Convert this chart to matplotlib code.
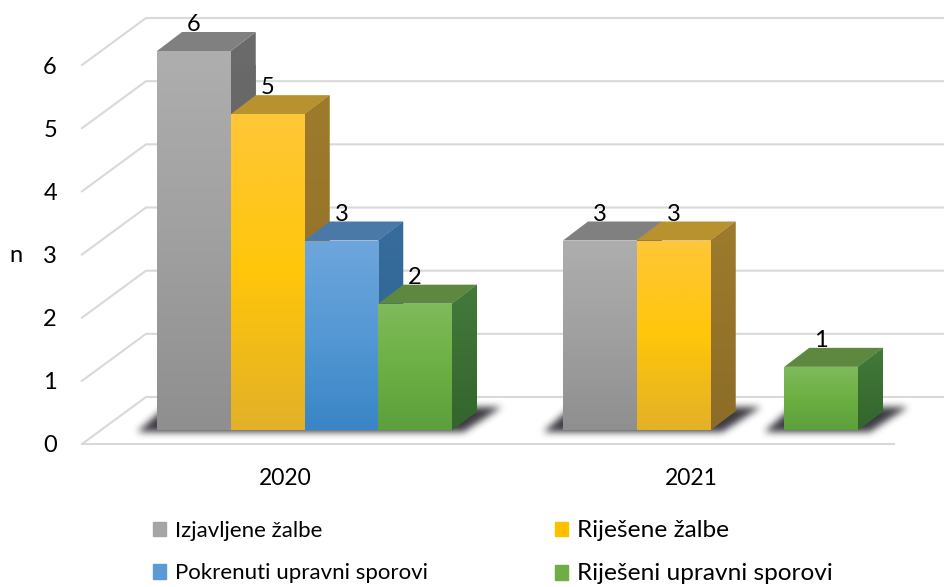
import numpy as np
import matplotlib.pyplot as plt
from matplotlib.patches import Polygon, Patch
from matplotlib.path import Path
from matplotlib.colors import LinearSegmentedColormap

years = ['2020', '2021']
series_names = ['Izjavljene žalbe', 'Riješene žalbe', 'Pokrenuti upravni sporovi', 'Riješeni upravni sporovi']
izjavljene = [6, 3]
rijesene = [5, 3]
pokrenuti = [3, 0]
rijeseni = [2, 1]
series = [izjavljene, rijesene, pokrenuti, rijeseni]
y_ticks = [0, 1, 2, 3, 4, 5, 6]

front_colors = [['#8f8f8f', '#a0a0a0', '#aeaeae'],
                ['#e2b127', '#ffc60a', '#ffc638'],
                ['#3a85c6', '#5598d4', '#6ea6dc'],
                ['#5d9f3d', '#6cb043', '#80ba5c']]
side_colors = [['#606060', '#6a6a6a'], ['#8c6d28', '#9e7b2c'],
               ['#2c6494', '#376c9c'], ['#33652c', '#437a3a']]
top_colors = ['#808080', '#b8922e', '#4a79a8', '#5e873f']
legend_colors = ['#a5a5a5', '#ffc000', '#5b9bd5', '#70ad47']

plt.rcParams['font.family'] = ['Lato', 'DejaVu Sans']

fig = plt.figure(figsize=(9.44, 5.87), dpi=100)
ax = fig.add_axes([82 / 944, 1 - 444 / 587, 812 / 944, 379 / 587])
ax.set_xlim(-0.5, 1.5)
ax.set_ylim(0, 6)
ax.autoscale(False)
for s in ax.spines.values():
    s.set_visible(False)

# fake 3d offsets, in data units
px = 1 / 406
py = 1 / 63.17
wall_dx = 64 * px
wall_dy = 47 * py
bar_x0 = 19.5 * px
bar_y0 = 14 * py
bar_dx = 25 * px
bar_dy = 19 * py
width = 73.75 * px
grid = '#d9d9d9'

for v in y_ticks:
    ax.plot([-0.5, -0.5 + wall_dx, 1.5 + wall_dx], [v, v + wall_dy, v + wall_dy],
            color=grid, lw=1.5, clip_on=False, zorder=1)
ax.plot([-0.5, 1.5], [0, 0], color=grid, lw=1.5, clip_on=False, zorder=1)


def gradient(colors, extent, z, clip):
    cmap = LinearSegmentedColormap.from_list('g', colors)
    im = ax.imshow(np.linspace(1, 0, 128).reshape(-1, 1), cmap=cmap, extent=extent,
                   aspect='auto', zorder=z, vmin=0, vmax=1)
    im.set_clip_path(clip)


def blur(a, n=7, passes=3):
    k = np.ones(n) / n
    for _ in range(passes):
        a = np.apply_along_axis(lambda r: np.convolve(r, k, mode='same'), 0, a)
        a = np.apply_along_axis(lambda r: np.convolve(r, k, mode='same'), 1, a)
    return a


def shadow(left, right):
    pts = [(left - 20 * px, bar_y0 - 2 * py), (right + 12 * px, bar_y0 - 2 * py),
           (right + 50 * px, bar_y0 + 23 * py), (left + 8 * px, bar_y0 + 23 * py)]
    x0, x1 = left - 50 * px, right + 80 * px
    y0, y1 = bar_y0 - 25 * py, bar_y0 + 50 * py
    nx, ny = int((x1 - x0) / px), int((y1 - y0) / py)
    xx, yy = np.meshgrid(np.linspace(x0, x1, nx), np.linspace(y0, y1, ny))
    mask = Path(pts).contains_points(np.c_[xx.ravel(), yy.ravel()]).reshape(ny, nx).astype(float)
    rgba = np.zeros((ny, nx, 4))
    rgba[..., :3] = (0.2, 0.19, 0.22)
    rgba[..., 3] = blur(mask) * 0.95
    ax.imshow(rgba, extent=(x0, x1, y0, y1), origin='lower', aspect='auto', zorder=2,
              interpolation='bilinear', clip_on=False)


# shadow under each run of bars
for c in range(len(years)):
    i = 0
    while i < 4:
        if series[i][c] == 0:
            i += 1
            continue
        j = i
        while j + 1 < 4 and series[j + 1][c] > 0:
            j += 1
        shadow(c + bar_x0 + (i - 2) * width, c + bar_x0 + (j - 1) * width)
        i = j + 1

# bars
z = 3
for c in range(len(years)):
    for i in range(4):
        v = series[i][c]
        if v == 0:
            continue
        left = c + bar_x0 + (i - 2) * width
        right = left + width
        top = bar_y0 + v
        side = Polygon([(right, bar_y0), (right + bar_dx, bar_y0 + bar_dy),
                        (right + bar_dx, top + bar_dy), (right, top)],
                       closed=True, facecolor=side_colors[i][1], lw=0, zorder=z, clip_on=False)
        ax.add_patch(side)
        gradient(side_colors[i], (right, right + bar_dx, bar_y0, top + bar_dy), z + 0.1, side)
        ax.add_patch(Polygon([(left, top), (right, top), (right + bar_dx, top + bar_dy),
                              (left + bar_dx, top + bar_dy)],
                             closed=True, facecolor=top_colors[i], lw=0, zorder=z + 0.2, clip_on=False))
        rect = ax.bar(left, v, width, bottom=bar_y0, align='edge', color=front_colors[i][2],
                      zorder=z + 0.3, clip_on=False)[0]
        gradient(front_colors[i], (left, right, bar_y0, top), z + 0.4, rect)
        z += 1

# value labels stay above all bars
for c in range(len(years)):
    for i in range(4):
        v = series[i][c]
        if v == 0:
            continue
        ax.annotate(str(v), (c + bar_x0 + (i - 1.5) * width, bar_y0 + v), xytext=(0, 19),
                    textcoords='offset points', ha='center', va='center', fontsize=17,
                    color='black', zorder=50, annotation_clip=False)

ax.set_xticks([0, 1])
ax.set_xticklabels(years, fontsize=16.5)
ax.set_yticks(y_ticks)
ax.set_yticklabels([str(v) for v in y_ticks], fontsize=17)
ax.tick_params(axis='x', length=0, pad=17.5)
ax.tick_params(axis='y', length=0, pad=18)
ax.set_ylabel('n', rotation=0, fontsize=17, labelpad=12, va='center')
ax.yaxis.set_label_coords(-66 / 812, (444 - 256) / 379)

order = [0, 2, 1, 3]
handles = [Patch(color=legend_colors[i], label=series_names[i]) for i in order]
leg = fig.legend(handles=handles, ncol=2, loc='upper left', bbox_to_anchor=(146 / 944, 1 - 513 / 587),
                 frameon=False, fontsize=16, handlelength=0.6, handleheight=0.6, handletextpad=0.4,
                 labelspacing=1.02, columnspacing=5.7, borderpad=0.3, borderaxespad=0)
# second column runs wider in the reference
for t in leg.get_texts()[2:]:
    t.set_fontsize(17.6)

plt.savefig('out.png', dpi=100)
